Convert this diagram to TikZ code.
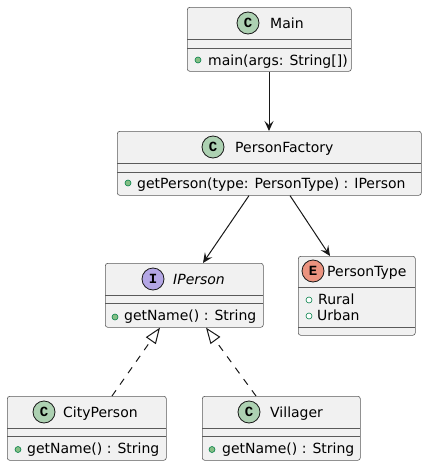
\documentclass[tikz,border=0pt]{standalone}
\usepackage{fontspec}
\setmainfont{DejaVu Sans}
\newfontfamily\iconfont{Liberation Mono}
\usetikzlibrary{arrows.meta,calc}
\definecolor{boxfill}{HTML}{F1F1F1}
\definecolor{boxline}{HTML}{5A5A5A}
\definecolor{edgecol}{HTML}{181818}
\definecolor{cfill}{HTML}{ADD1B2}
\definecolor{ifill}{HTML}{B4A7E5}
\definecolor{efill}{HTML}{EB937F}
\definecolor{pubfill}{HTML}{84BE84}
\definecolor{publine}{HTML}{038048}
\tikzset{
  umlbox/.style={draw=boxline, fill=boxfill, line width=0.6pt, rounded corners=2.5pt, inner sep=0pt, anchor=north west},
  sepline/.style={draw=boxline, line width=0.6pt},
  icon/.style={circle, draw=edgecol, line width=0.8pt, minimum size=22pt, inner sep=0pt, font=\iconfont\bfseries\fontsize{14}{14}\selectfont},
  txt/.style={anchor=base west, inner sep=0pt, font=\fontsize{14}{16}\selectfont},
  pub/.style={circle, draw=publine, fill=pubfill, line width=0.6pt, minimum size=6pt, inner sep=0pt},
  fld/.style={circle, draw=publine, fill=white, line width=0.6pt, minimum size=6pt, inner sep=0pt},
  assoc/.style={draw=edgecol, line width=1pt, -{Stealth[length=10pt, width=9pt, inset=4pt]}},
  realize/.style={draw=edgecol, line width=1pt, dash pattern=on 7pt off 7pt, -{Triangle[open, length=16pt, width=12pt, fill=white]}}
}
\begin{document}
\begin{tikzpicture}[x=1pt, y=-1pt]
\useasboundingbox (0,0) rectangle (427,466);

% Main
\node[umlbox, minimum width=164pt, minimum height=64pt] (main) at (187,7) {};
\draw[sepline] (187,39) -- (351,39);
\draw[sepline] (187,48) -- (351,48);
\node[icon, fill=cfill] (mainicon) at (248,23) {C};
\node[txt] (mainname) at (270,28.5) {Main};
\node[pub] (mainpub) at (198,60) {};
\node[txt] (mainm) at (208,65) {main(args: String[])};

% PersonFactory
\node[umlbox, minimum width=304pt, minimum height=64pt] (pf) at (117,131) {};
\draw[sepline] (117,163) -- (421,163);
\draw[sepline] (117,172) -- (421,172);
\node[icon, fill=cfill] (pficon) at (213,147) {C};
\node[txt] (pfname) at (235,152.5) {PersonFactory};
\node[pub] (pfpub) at (128,183) {};
\node[txt] (pfm) at (137,188.5) {getPerson(type: PersonType) : IPerson};

% IPerson
\node[umlbox, minimum width=158pt, minimum height=64pt] (ip) at (105,263) {};
\draw[sepline] (105,295) -- (263,295);
\draw[sepline] (105,303) -- (263,303);
\node[icon, fill=ifill] (ipicon) at (153,279) {I};
\node[txt] (ipname) at (173,284.3) {\itshape IPerson};
\node[pub] (ippub) at (115,317) {};
\node[txt] (ipm) at (124,320.5) {getName() : String};

% PersonType
\node[umlbox, minimum width=117pt, minimum height=79pt] (pt) at (298,256) {};
\draw[sepline] (298,287) -- (415,287);
\draw[sepline] (298,327) -- (415,327);
\node[icon, fill=efill] (pticon) at (313,271) {E};
\node[txt] (ptname) at (327,276.5) {PersonType};
\node[fld] (ptf1) at (309,300) {};
\node[txt] (ptrural) at (318,304.5) {Rural};
\node[fld] (ptf2) at (309,316) {};
\node[txt] (pturban) at (317,320.5) {Urban};

% CityPerson
\node[umlbox, minimum width=159pt, minimum height=64pt] (cp) at (7,396) {};
\draw[sepline] (7,428) -- (166,428);
\draw[sepline] (7,436) -- (166,436);
\node[icon, fill=cfill] (cpicon) at (44,412) {C};
\node[txt] (cpname) at (63,417.5) {CityPerson};
\node[pub] (cppub) at (18,449.5) {};
\node[txt] (cpm) at (27,453) {getName() : String};

% Villager
\node[umlbox, minimum width=158pt, minimum height=64pt] (vl) at (202,396) {};
\draw[sepline] (202,428) -- (360,428);
\draw[sepline] (202,436) -- (360,436);
\node[icon, fill=cfill] (vlicon) at (249,412) {C};
\node[txt] (vlname) at (270,417.5) {Villager};
\node[pub] (vlpub) at (212,449.5) {};
\node[txt] (vlm) at (222,453) {getName() : String};

% connectors
\draw[assoc] ([xshift=82pt]main.south west) -- ([xshift=152pt]pf.north west);
\draw[assoc] ([xshift=132pt]pf.south west) -- ([xshift=98pt]ip.north west);
\draw[assoc] ([xshift=173pt]pf.south west) -- ([xshift=32pt]pt.north west);
\draw[realize] ([xshift=105pt]cp.north west) -- ([xshift=55pt]ip.south west);
\draw[realize] ([xshift=54pt]vl.north west) -- ([xshift=101pt]ip.south west);
\end{tikzpicture}
\end{document}
